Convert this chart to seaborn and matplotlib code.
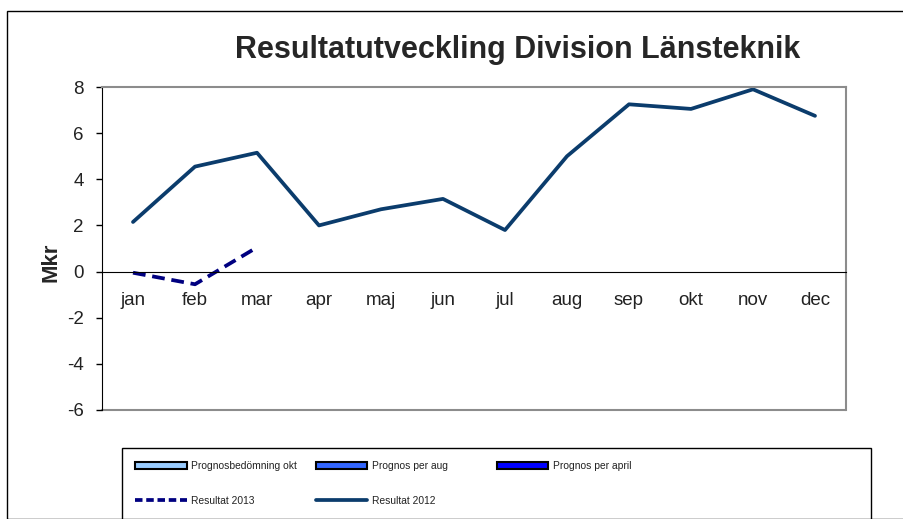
import numpy as np
import pandas as pd
import matplotlib
matplotlib.use('Agg')
import matplotlib.pyplot as plt
import seaborn as sns
from matplotlib.patches import Patch, Rectangle
from matplotlib.lines import Line2D

# data (Mkr)
months = ['jan', 'feb', 'mar', 'apr', 'maj', 'jun', 'jul', 'aug', 'sep', 'okt', 'nov', 'dec']
resultat_2012 = [2.15, 4.55, 5.15, 2.0, 2.7, 3.15, 1.8, 5.0, 7.25, 7.05, 7.9, 6.75]
resultat_2013 = [-0.05, -0.55, 1.05]
yticks = [-6, -4, -2, 0, 2, 4, 6, 8]

df12 = pd.DataFrame({'month': months, 'value': resultat_2012})
df13 = pd.DataFrame({'month': months[:len(resultat_2013)], 'value': resultat_2013})

sns.set_style('white')
plt.rcParams['font.family'] = ['Liberation Sans', 'DejaVu Sans']

fig = plt.figure(figsize=(9.04, 5.19), dpi=100)
W, H = 904, 519
ax = fig.add_axes([102 / W, 1 - 410 / H, 744 / W, 323 / H])

c2012 = '#0b3c6c'
c2013 = '#000080'
sns.lineplot(data=df12, x='month', y='value', ax=ax, color=c2012, lw=2.7,
             sort=False, solid_capstyle='round')
sns.lineplot(data=df13, x='month', y='value', ax=ax, color=c2013, lw=2.7,
             sort=False, dashes=False)
ax.lines[-1].set_dashes([3.4, 1.8])

ax.set_xlim(-0.5, len(months) - 0.5)
ax.set_ylim(-6, 8)
ax.set_yticks(yticks)
ax.set_yticklabels([str(t) for t in yticks])
ax.set_xticks(range(len(months)))
ax.set_xticklabels(months)
ax.set_xticks(np.arange(0.5, len(months) - 1, 1), minor=True)
ax.tick_params(axis='both', which='major', labelsize=13.5, labelcolor='#222222')
ax.tick_params(axis='x', which='major', length=0, pad=15)
ax.tick_params(axis='x', which='minor', length=4, width=1, direction='out', color='black')
ax.tick_params(axis='y', length=4, width=1, direction='out', color='black', pad=9, left=True)
ax.set_xlabel('')
ax.set_ylabel('Mkr', fontsize=16, fontweight='bold')
ax.yaxis.set_label_coords(-0.054, 0.458)

# x axis at zero, grey frame around the plot area
ax.spines['bottom'].set_position(('data', 0))
ax.spines['bottom'].set_color('black')
ax.spines['left'].set_color('black')
for s in ['top', 'right']:
    ax.spines[s].set_color('#8c8c8c')
    ax.spines[s].set_linewidth(1.5)
ax.axhline(-6, color='#8c8c8c', lw=1.5, clip_on=False, zorder=0)

fig.text(518 / W, 1 - 50 / H, 'Resultatutveckling Division Länsteknik',
         fontsize=22, fontweight='bold', ha='center', va='center')

# outer chart frame and legend box
fig.patches.append(Rectangle((7 / W, 0), 1, 1 - 11 / H, transform=fig.transFigure,
                             fill=False, edgecolor='black', lw=1, clip_on=False))
fig.patches.append(Rectangle((122 / W, -0.05), 749 / W, 0.05 + 1 - 448 / H,
                             transform=fig.transFigure, fill=False,
                             edgecolor='black', lw=1, clip_on=False))

columns = [
    [Patch(facecolor='#99ccff', edgecolor='black', lw=1.5, label='Prognosbedömning okt'),
     Line2D([], [], color=c2013, lw=2.7, dashes=[2.0, 1.0], label='Resultat 2013')],
    [Patch(facecolor='#3366ff', edgecolor='black', lw=1.5, label='Prognos per aug'),
     Line2D([], [], color=c2012, lw=2.7, label='Resultat 2012')],
    [Patch(facecolor='#0000ff', edgecolor='black', lw=1.5, label='Prognos per april')],
]
col_x = [131, 312, 493]
for x, handles in zip(col_x, columns):
    fig.legend(handles=handles, loc='upper left', bbox_to_anchor=(x / W, 1 - 457 / H),
               frameon=False, fontsize=7.4,
               handlelength=5.0, handleheight=0.8, labelcolor='#222222',
               handletextpad=0.4, labelspacing=2.4, borderaxespad=0)

fig.savefig('out.png', dpi=100)
